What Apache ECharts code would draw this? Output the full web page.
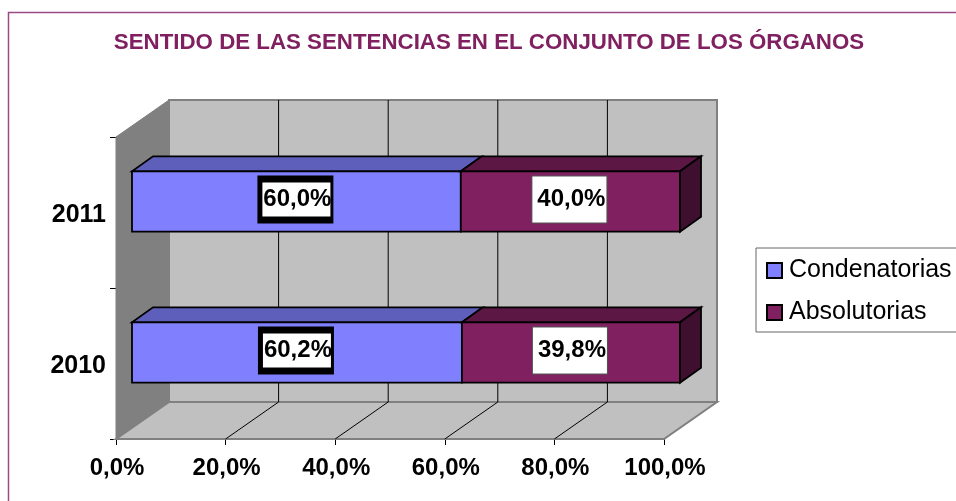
<!DOCTYPE html>
<html lang="es">
<head>
    <meta charset="UTF-8">
    <title>Sentido de las sentencias</title>
    <script src="https://cdn.jsdelivr.net/npm/echarts@6/dist/echarts.min.js"></script>
    <style>
        html, body { margin: 0; padding: 0; background: #fff; }
        #main { width: 956px; height: 501px; }
    </style>
</head>
<body>
	<div id="main"></div>
	<script>
        var titleText = 'SENTIDO DE LAS SENTENCIAS EN EL CONJUNTO DE LOS ÓRGANOS';
        var categories = ['2010', '2011'];
        var condenatorias = [60.2, 60.0];
        var absolutorias = [39.8, 40.0];
        var tickValues = [0, 20, 40, 60, 80, 100];

        var FONT = '"Liberation Sans", Arial, sans-serif';
        var DEPTH_X = 53, DEPTH_Y = 37;       // fondo de la caja 3D
        var BAR_DX = 21, BAR_DY = 15;         // fondo de cada barra
        var BAR_OX = 16, BAR_OY = 11;         // barra centrada en la caja

        function poly(points, fill, stroke, lineWidth) {
            return {
                type: 'polygon',
                shape: { points: points },
                style: { fill: fill, stroke: stroke, lineWidth: lineWidth }
            };
        }

        // paredes y suelo
        function renderBox(params, api) {
            var cs = params.coordSys;
            var x0 = cs.x, x1 = cs.x + cs.width, y0 = cs.y, y1 = cs.y + cs.height;
            var dx = DEPTH_X, dy = DEPTH_Y;
            return {
                type: 'group',
                children: [
                    poly([[x0 + dx, y0 - dy], [x1 + dx, y0 - dy], [x1 + dx, y1 - dy], [x0 + dx, y1 - dy]], '#c0c0c0', '#808080', 2),
                    poly([[x0, y1], [x1, y1], [x1 + dx, y1 - dy], [x0 + dx, y1 - dy]], '#c0c0c0', '#808080', 2),
                    poly([[x0, y0], [x0 + dx, y0 - dy], [x0 + dx, y1 - dy], [x0, y1]], '#808080', '#808080', 1)
                ]
            };
        }

        // lineas de division en pared y suelo
        function renderGridLine(params, api) {
            var v = api.value(0);
            var cs = params.coordSys;
            var x = api.coord([v, categories[0]])[0];
            var y1 = cs.y + cs.height;
            return {
                type: 'polyline',
                shape: { points: [[x, y1], [x + DEPTH_X, y1 - DEPTH_Y], [x + DEPTH_X, cs.y - DEPTH_Y]] },
                style: { fill: null, stroke: '#000', lineWidth: 1 }
            };
        }

        function makeRenderBar(front, top, side, hasSide, labelStyle) {
            return function (params, api) {
                var start = api.value(0), end = api.value(1), cat = api.value(2);
                var a = api.coord([start, cat]);
                var b = api.coord([end, cat]);
                var h = api.size([0, 1])[1] * 0.4;
                var xa = a[0] + BAR_OX, xb = b[0] + BAR_OX;
                var yt = a[1] - BAR_OY - h / 2, yb = a[1] - BAR_OY + h / 2;
                var dx = BAR_DX, dy = BAR_DY;
                var children = [
                    poly([[xa, yt], [xb, yt], [xb + dx, yt - dy], [xa + dx, yt - dy]], top, '#000', 1.8),
                    poly([[xa, yt], [xb, yt], [xb, yb], [xa, yb]], front, '#000', 1.8)
                ];
                if (hasSide) {
                    children.push(poly([[xb, yt], [xb + dx, yt - dy], [xb + dx, yb - dy], [xb, yb]], side, '#000', 1.8));
                }
                var cx = (xa + xb) / 2 + labelStyle.shift, cy = (yt + yb) / 2 - 2;
                var bw = labelStyle.w, bh = labelStyle.h;
                children.push({
                    type: 'rect',
                    shape: { x: cx - bw / 2, y: cy - bh / 2, width: bw, height: bh },
                    style: { fill: labelStyle.border, stroke: null }
                });
                children.push({
                    type: 'rect',
                    shape: {
                        x: cx - bw / 2 + labelStyle.bl,
                        y: cy - bh / 2 + labelStyle.bt,
                        width: bw - labelStyle.bl - labelStyle.br,
                        height: bh - 2 * labelStyle.bt
                    },
                    style: { fill: '#fff', stroke: null }
                });
                children.push({
                    type: 'text',
                    style: {
                        x: cx + 2,
                        y: cy,
                        text: (end - start).toFixed(1).replace('.', ',') + '%',
                        align: 'center',
                        verticalAlign: 'middle',
                        font: 'bold 24px ' + FONT,
                        fill: '#000'
                    }
                });
                return { type: 'group', children: children };
            };
        }

        var condData = categories.map(function (c, i) { return [0, condenatorias[i], c]; });
        var absData = categories.map(function (c, i) { return [condenatorias[i], condenatorias[i] + absolutorias[i], c]; });

        var myChart = echarts.init(document.getElementById('main'));
        var option = {
            animation: false,
            backgroundColor: '#fff',
            title: {
                text: titleText,
                left: 484,
                top: 27,
                textAlign: 'center',
                textStyle: { fontFamily: FONT, fontSize: 22.3, fontWeight: 'bold', color: '#802060' }
            },
            legend: {
                orient: 'vertical',
                left: 756,
                top: 248,
                padding: [10, 30, 7, 10],
                itemGap: 17,
                itemWidth: 15,
                itemHeight: 15,
                borderColor: '#666',
                borderWidth: 1,
                backgroundColor: '#fff',
                textStyle: { fontFamily: FONT, fontSize: 25, color: '#000', padding: [0, 0, 6, 2] },
                data: [
                    { name: 'Condenatorias', icon: 'rect' },
                    { name: 'Absolutorias', icon: 'rect' }
                ]
            },
            grid: { left: 116, right: 292, top: 137, bottom: 62 },
            xAxis: {
                type: 'value',
                min: 0,
                max: 100,
                interval: 20,
                axisLine: { show: true, onZero: false, lineStyle: { color: '#000', width: 1 } },
                axisTick: { show: true, length: 6, lineStyle: { color: '#000' } },
                splitLine: { show: false },
                axisLabel: {
                    margin: 17,
                    padding: [0, 0, 0, 2],
                    fontFamily: FONT,
                    fontSize: 24,
                    fontWeight: 'bold',
                    color: '#000',
                    formatter: function (v) { return v.toFixed(1).replace('.', ',') + '%'; }
                }
            },
            yAxis: {
                type: 'category',
                data: categories,
                axisLine: { show: true, lineStyle: { color: '#000', width: 1 } },
                axisTick: { show: true, length: 6, lineStyle: { color: '#000' } },
                axisLabel: {
                    margin: 10,
                    formatter: '{a|{value}}',
                    rich: {
                        a: {
                            padding: [5, 0, 0, 0],
                            fontFamily: FONT,
                            fontSize: 25,
                            fontWeight: 'bold',
                            color: '#000'
                        }
                    }
                }
            },
            graphic: [{
                type: 'polyline',
                z: -1,
                shape: { points: [[8.5, 501], [8.5, 12.5], [956, 12.5]] },
                style: { fill: null, stroke: '#9c4a85', lineWidth: 1.5 }
            }],
            series: [
                {
                    name: 'Caja',
                    type: 'custom',
                    coordinateSystem: 'cartesian2d',
                    z: 1,
                    clip: false,
                    silent: true,
                    renderItem: renderBox,
                    data: [[0]]
                },
                {
                    name: 'Divisiones',
                    type: 'custom',
                    coordinateSystem: 'cartesian2d',
                    z: 2,
                    clip: false,
                    silent: true,
                    renderItem: renderGridLine,
                    encode: { x: 0 },
                    data: tickValues.slice(1, -1).map(function (v) { return [v]; })
                },
                {
                    name: 'Condenatorias',
                    type: 'custom',
                    coordinateSystem: 'cartesian2d',
                    z: 3,
                    clip: false,
                    itemStyle: { color: '#8080ff', borderColor: '#000', borderWidth: 1.5 },
                    renderItem: makeRenderBar('#8080ff', '#5e5fba', '#5e5fba', false, { w: 76, h: 48, bl: 5, br: 3, bt: 7, border: '#000', shift: -1 }),
                    encode: { x: [0, 1], y: 2 },
                    data: condData
                },
                {
                    name: 'Absolutorias',
                    type: 'custom',
                    coordinateSystem: 'cartesian2d',
                    z: 4,
                    clip: false,
                    itemStyle: { color: '#802060', borderColor: '#000', borderWidth: 1.5 },
                    renderItem: makeRenderBar('#802060', '#5d1745', '#3f0f30', true, { w: 76, h: 48, bl: 1, br: 1, bt: 1, border: '#555', shift: -1 }),
                    encode: { x: [0, 1], y: 2 },
                    data: absData
                }
            ]
        };
        myChart.setOption(option);
	</script>
</body>
</html>
